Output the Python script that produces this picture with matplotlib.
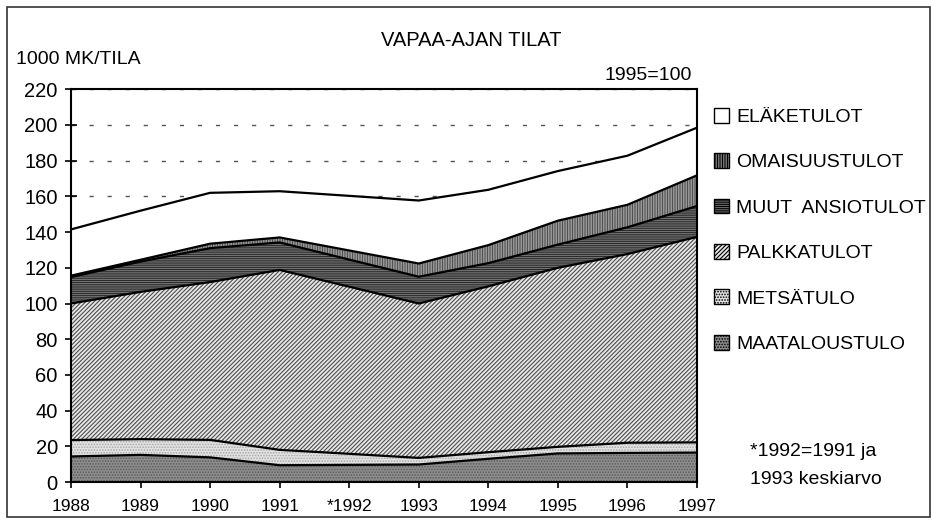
import matplotlib
matplotlib.use('Agg')
import matplotlib.pyplot as plt
import numpy as np
from matplotlib.patches import Patch, Rectangle

# --- data (1000 mk per farm, 1995=100) ---
years = ['1988', '1989', '1990', '1991', '*1992', '1993', '1994', '1995', '1996', '1997']
maatalous = [14.3, 15.2, 13.8, 9.4, 9.6, 9.8, 13.0, 16.0, 16.3, 16.5]
metsa = [9.2, 8.8, 9.8, 8.6, 6.2, 3.7, 3.7, 3.7, 5.7, 5.7]
palkka = [76.5, 82.5, 88.4, 100.8, 93.6, 86.5, 92.9, 100.3, 105.7, 115.1]
muut = [14.8, 17.0, 19.0, 15.4, 15.2, 15.0, 13.0, 13.0, 15.0, 17.3]
omaisuus = [0.8, 1.0, 2.5, 2.8, 5.1, 7.4, 10.1, 13.4, 12.6, 17.2]
elake = [25.9, 27.5, 28.5, 25.9, 30.6, 35.3, 31.0, 27.8, 27.5, 26.7]

names = ['MAATALOUSTULO', 'METSÄTULO', 'PALKKATULOT', 'MUUT  ANSIOTULOT',
         'OMAISUUSTULOT', 'ELÄKETULOT']

# face colour, hatch, hatch colour
styles = [('#8e8e8e', '......', '#5a5a5a'),
          ('#e2e2e2', '......', '#a8a8a8'),
          ('#e8e8e8', '////////', '#4d4d4d'),
          ('#8a8a8a', '---------', '#2a2a2a'),
          ('#d0d0d0', '||||||||||', '#505050'),
          ('white', '', 'white')]

plt.rcParams['font.family'] = ['Liberation Sans', 'DejaVu Sans']
plt.rcParams['hatch.linewidth'] = 0.8

fig = plt.figure(figsize=(9.33, 5.23), dpi=100)
ax = fig.add_axes([71 / 933, 1 - 482 / 523, 626 / 933, (482 - 89.3) / 523])

x = np.arange(len(years))
series = [maatalous, metsa, palkka, muut, omaisuus, elake]
tops = np.cumsum(series, axis=0)
bottom = np.zeros(len(x))
for top, (fc, h, hc) in zip(tops, styles):
    ax.fill_between(x, bottom, top, facecolor=fc, hatch=h, edgecolor=hc,
                    linewidth=0, zorder=2)
    ax.plot(x, top, color='black', lw=1.6, zorder=3)
    bottom = top

ax.set_xlim(0, len(years) - 1)
ax.set_ylim(0, 220)
ax.set_yticks(np.arange(0, 221, 20))
ax.set_xticks(x)
ax.set_xticklabels(years)
ax.grid(axis='y', color='#555555', lw=1.0, linestyle=(0, (3, 10)))
ax.set_axisbelow(True)
for s in ax.spines.values():
    s.set_linewidth(1.5)
ax.tick_params(axis='y', direction='inout', length=9, width=1.2, labelsize=14.5, pad=5)
ax.tick_params(axis='x', direction='out', length=4, width=1.2, labelsize=12.5, pad=8)

fig.text(16 / 933, 1 - 60 / 523, '1000 MK/TILA', fontsize=14, va='center')
fig.text(471 / 933, 1 - 40 / 523, 'VAPAA-AJAN TILAT', fontsize=14.5,
         ha='center', va='center')
fig.text(692 / 933, 1 - 75 / 523, '1995=100', fontsize=14, ha='right', va='center')

handles = [Patch(facecolor=fc, hatch=h, edgecolor='black', lw=1.0)
           for fc, h, hc in styles]
ax.legend(handles[::-1], names[::-1], loc='upper left',
          bbox_to_anchor=(706 / 933, 1 - 100 / 523), bbox_transform=fig.transFigure,
          frameon=False, fontsize=14, handlelength=0.8, handleheight=0.8,
          handletextpad=0.35, labelspacing=1.4, borderaxespad=0)

fig.text(750 / 933, 1 - 452 / 523, '*1992=1991 ja', fontsize=14, va='center')
fig.text(750 / 933, 1 - 480 / 523, '1993 keskiarvo', fontsize=14, va='center')

fig.add_artist(Rectangle((7 / 933, 1 - 517 / 523), 923 / 933, 510 / 523,
                         transform=fig.transFigure, fill=False, lw=1.2, ec='#333333'))

fig.savefig('out.png', dpi=100)
